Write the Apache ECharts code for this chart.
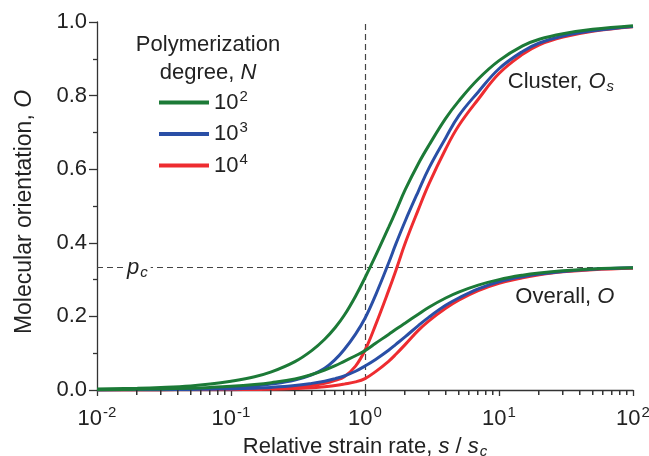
<!DOCTYPE html>
<html>
<head>
<meta charset="utf-8">
<script src="https://cdn.jsdelivr.net/npm/echarts@6/dist/echarts.min.js"></script>
<style>
  html, body { margin: 0; padding: 0; background: #fff; }
  #chart { width: 649px; height: 456px; }
</style>
</head>
<body>
<div id="chart"></div>
<script>
  // relative strain rate s / s_c (shared sample points)
  var strainRate = [0.01, 0.02, 0.03, 0.05, 0.07, 0.1, 0.15, 0.2, 0.3, 0.4, 0.5, 0.6, 0.7, 0.85, 1, 1.2, 1.5, 1.7, 2, 2.5, 3, 4, 5, 7, 10, 15, 20, 30, 50, 100]

  // cluster orientation O_s
  var clusterN2 = [0.003, 0.005, 0.007, 0.011, 0.016, 0.024, 0.036, 0.049, 0.077, 0.107, 0.138, 0.17, 0.203, 0.255, 0.305, 0.365, 0.442, 0.486, 0.545, 0.615, 0.665, 0.738, 0.785, 0.845, 0.895, 0.935, 0.953, 0.968, 0.98, 0.99]
  var clusterN3 = [0.001, 0.0015, 0.002, 0.003, 0.005, 0.007, 0.011, 0.016, 0.027, 0.041, 0.059, 0.083, 0.11, 0.152, 0.195, 0.258, 0.345, 0.397, 0.46, 0.54, 0.603, 0.685, 0.745, 0.81, 0.873, 0.92, 0.943, 0.962, 0.976, 0.988]
  var clusterN4 = [0.0005, 0.0007, 0.001, 0.0015, 0.002, 0.003, 0.004, 0.005, 0.008, 0.012, 0.018, 0.026, 0.036, 0.065, 0.108, 0.177, 0.27, 0.325, 0.4, 0.49, 0.56, 0.655, 0.718, 0.79, 0.86, 0.912, 0.938, 0.959, 0.975, 0.987]

  // overall orientation O
  var overallN2 = [0.001, 0.002, 0.003, 0.005, 0.007, 0.01, 0.015, 0.02, 0.03, 0.042, 0.054, 0.066, 0.078, 0.093, 0.107, 0.127, 0.151, 0.165, 0.182, 0.206, 0.225, 0.25, 0.266, 0.285, 0.3, 0.312, 0.318, 0.324, 0.329, 0.332]
  var overallN3 = [0.0003, 0.0006, 0.001, 0.0015, 0.002, 0.003, 0.005, 0.007, 0.012, 0.018, 0.024, 0.031, 0.038, 0.051, 0.065, 0.083, 0.108, 0.124, 0.145, 0.175, 0.198, 0.23, 0.25, 0.275, 0.294, 0.308, 0.315, 0.322, 0.328, 0.332]
  var overallN4 = [0.0001, 0.0002, 0.0003, 0.0005, 0.0007, 0.001, 0.0015, 0.002, 0.004, 0.006, 0.009, 0.012, 0.016, 0.022, 0.031, 0.05, 0.078, 0.097, 0.124, 0.162, 0.188, 0.222, 0.244, 0.27, 0.29, 0.305, 0.313, 0.321, 0.327, 0.331]

  var degreeNames = ['N2', 'N3', 'N4']
  var degreeExp = { N2: '2', N3: '3', N4: '4' }
  var xMinorTicks = [0.02, 0.03, 0.04, 0.05, 0.06, 0.07, 0.08, 0.09,
    0.2, 0.3, 0.4, 0.5, 0.6, 0.7, 0.8, 0.9,
    2, 3, 4, 5, 6, 7, 8, 9,
    20, 30, 40, 50, 60, 70, 80, 90]
  var pcLevel = 0.333
  var critRate = 1

  var FONT = "'Liberation Sans', Arial, sans-serif"
  var TXT = '#222'
  var colors = { N2: '#1c7a37', N3: '#2a4fa6', N4: '#ee2c30' }

  var supRich = {
    b: { fontSize: 22, fontFamily: FONT, color: TXT },
    s: { fontSize: 15, fontFamily: FONT, color: TXT, padding: [0, 0, 12, 1] },
    n: { fontSize: 22, fontFamily: FONT, color: TXT },
    i: { fontSize: 22, fontFamily: FONT, color: TXT, fontStyle: 'italic' },
    sub: { fontSize: 15, fontFamily: FONT, color: TXT, fontStyle: 'italic', padding: [10, 0, 0, 1] }
  }

  function pairs (vals) {
    return strainRate.map(function (x, i) { return [x, vals[i]] })
  }

  function curve (name, vals) {
    return {
      name: name,
      type: 'line',
      smooth: 0.4,
      showSymbol: false,
      symbol: 'none',
      z: 3,
      lineStyle: { color: colors[name], width: 3 },
      itemStyle: { color: colors[name] },
      data: pairs(vals)
    }
  }

  var chart = echarts.init(document.getElementById('chart'))
  var option = {
    animation: false,
    backgroundColor: '#fff',
    grid: { left: 97, right: 16, top: 22, bottom: 66, outerBoundsMode: 'none' },
    legend: {
      data: degreeNames,
      orient: 'vertical',
      left: 159,
      top: 89,
      padding: 0,
      itemWidth: 50,
      itemHeight: 4,
      itemGap: 5,
      icon: 'rect',
      formatter: function (name) {
        return '{b|10}{s|' + degreeExp[name] + '}'
      },
      textStyle: { lineHeight: 26, rich: supRich }
    },
    graphic: [{
      id: 'legendTitle',
      type: 'text',
      x: 208,
      y: 31,
      style: {
        text: 'Polymerization\n{n|degree, }{i|N}',
        fontSize: 22,
        fontFamily: FONT,
        fill: TXT,
        align: 'center',
        lineHeight: 28,
        rich: supRich
      }
    }],
    xAxis: {
      type: 'log',
      logBase: 10,
      min: 0.01,
      max: 100,
      name: '{n|Relative strain rate, }{i|s}{n| / }{i|s}{sub|c}',
      nameLocation: 'middle',
      nameGap: 44,
      nameTextStyle: { rich: supRich },
      axisLine: { lineStyle: { color: '#333', width: 1.3 } },
      axisTick: { show: true, length: 6, lineStyle: { color: '#333', width: 1.3 } },
      splitLine: { show: false },
      axisLabel: {
        margin: 15,
        formatter: function (v) {
          return '{b|10}{s|' + Math.round(Math.log10(v)) + '}'
        },
        rich: supRich
      }
    },
    yAxis: {
      type: 'value',
      min: 0,
      max: 1,
      interval: 0.2,
      name: 'Molecular orientation, {i|O}',
      nameLocation: 'middle',
      nameGap: 61,
      nameTextStyle: { fontSize: 23, fontFamily: FONT, color: TXT, padding: [0, 0, 0, -12], rich: { i: { fontSize: 23, fontFamily: FONT, color: TXT, fontStyle: 'italic' } } },
      axisLine: { show: true, lineStyle: { color: '#333', width: 1.3 } },
      axisTick: { show: true, length: 8, lineStyle: { color: '#333', width: 1.3 } },
      minorTick: { show: true, splitNumber: 2, length: 4, lineStyle: { color: '#333', width: 1.3 } },
      splitLine: { show: false },
      axisLabel: {
        margin: 10,
        fontSize: 22,
        fontFamily: FONT,
        color: TXT,
        formatter: function (v) { return v.toFixed(1) }
      }
    },
    series: [
      {
        name: 'guides',
        type: 'line',
        data: [],
        z: 1,
        markLine: {
          silent: true,
          symbol: 'none',
          z: 1,
          label: { show: false },
          lineStyle: { color: '#444', type: [6, 4], width: 1.2 },
          data: [
            [{ coord: [0.01, pcLevel] }, { coord: [100, pcLevel] }],
            [{ coord: [critRate, 0] }, { coord: [critRate, 1] }]
          ]
        }
      },
      curve('N4', clusterN4),
      curve('N4', overallN4),
      curve('N3', clusterN3),
      curve('N3', overallN3),
      curve('N2', clusterN2),
      curve('N2', overallN2),
      {
        name: 'notes',
        type: 'line',
        data: [],
        z: 10,
        markPoint: {
          symbol: 'circle',
          symbolSize: 0,
          z: 10,
          label: { show: true, position: 'inside', rich: supRich },
          data: [
            { coord: [0.02, pcLevel], label: { formatter: '{i|p}{sub|c}', backgroundColor: '#fff', padding: [0, 3, 0, 3] } },
            { coord: [29, 0.837], label: { formatter: '{n|Cluster, }{i|O}{sub|s}' } },
            { coord: [31, 0.253], label: { formatter: '{n|Overall, }{i|O}' } }
          ]
        }
      }
    ]
  }
  chart.setOption(option)

  // minor ticks of the log x axis, placed through the chart's own axis scale
  var tickGraphics = [{ id: 'legendTitle' }]
  xMinorTicks.forEach(function (v, i) {
    var p = chart.convertToPixel('grid', [v, 0])
    if (!p || isNaN(p[0])) return
    tickGraphics.push({
      id: 'minorTick' + i,
      type: 'rect',
      silent: true,
      z: 50,
      shape: { x: Math.round(p[0]) - 1, y: Math.round(p[1]), width: 1.5, height: 5 },
      style: { fill: '#333', stroke: null }
    })
  })
  chart.setOption({ graphic: tickGraphics })
</script>
</body>
</html>
